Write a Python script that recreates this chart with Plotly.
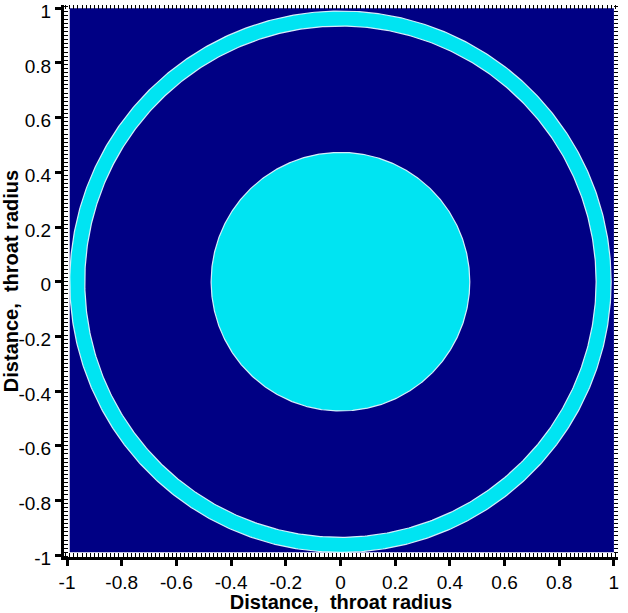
import numpy as np
import plotly.graph_objects as go

# Data
field_extent = [-0.99, 1.0]          # extent of the coloured field (both axes)
ring_outer_radius = 0.99
ring_inner_radius = 0.935
core_radius = 0.473
tick_vals = [-1, -0.8, -0.6, -0.4, -0.2, 0, 0.2, 0.4, 0.6, 0.8, 1]
tick_text = ["-1", "-0.8", "-0.6", "-0.4", "-0.2", "0", "0.2", "0.4", "0.6", "0.8", "1"]
axis_title = "Distance,  throat radius"

NAVY = "rgb(0,0,132)"
CYAN = "rgb(0,228,242)"

theta = np.linspace(0, 2 * np.pi, 721)


def circle(r, fill, name):
    return go.Scatter(
        x=r * np.cos(theta), y=r * np.sin(theta),
        mode="lines", fill="toself", fillcolor=fill,
        line=dict(color="rgba(235,250,255,0.9)", width=1.2),
        hoverinfo="skip", showlegend=False, name=name,
    )


fig = go.Figure()
# background field
fig.add_trace(go.Scatter(
    x=[field_extent[0], field_extent[1], field_extent[1], field_extent[0], field_extent[0]],
    y=[field_extent[0], field_extent[0], field_extent[1], field_extent[1], field_extent[0]],
    mode="lines", fill="toself", fillcolor=NAVY, line=dict(width=0, color=NAVY),
    hoverinfo="skip", showlegend=False))
fig.add_trace(circle(ring_outer_radius, CYAN, "ring"))
fig.add_trace(circle(ring_inner_radius, NAVY, "gap"))
fig.add_trace(circle(core_radius, CYAN, "core"))

font_ticks = dict(family="Liberation Sans, Arial, sans-serif", size=19, color="black")
font_title = dict(family="Liberation Sans, Arial, sans-serif", size=20, color="black")

fig.update_layout(
    width=628, height=613,
    margin=dict(l=64, r=10, t=5, b=56, autoexpand=False),
    paper_bgcolor="white", plot_bgcolor="white",
    showlegend=False,
    xaxis=dict(
        range=[-1.011, 1.015], tickvals=tick_vals, ticktext=tick_text,
        showgrid=False, zeroline=False, showline=True, linecolor="black", linewidth=3,
        ticks="outside", ticklen=6, tickwidth=3, tickcolor="black",
        tickfont=font_ticks, automargin=False, ticklabeloverflow="allow",
        minor=dict(ticks="inside", dtick=0.015, ticklen=4, tickwidth=1, tickcolor="black", showgrid=False),
        title=dict(text="<b>" + axis_title + "</b>", font=font_title, standoff=2),
    ),
    yaxis=dict(
        range=[-1.007, 1.012], tickvals=tick_vals, ticktext=tick_text,
        showgrid=False, zeroline=False, showline=True, linecolor="black", linewidth=3,
        ticks="outside", ticklen=6, tickwidth=3, tickcolor="black",
        tickfont=font_ticks, automargin=False, ticklabeloverflow="allow",
        ticklabelshift=3,
        minor=dict(ticks="inside", dtick=0.015, ticklen=4, tickwidth=1, tickcolor="black", showgrid=False),
        title=dict(text="<b>" + axis_title + "</b>", font=font_title, standoff=4),
    ),
    xaxis2=dict(
        overlaying="x", matches="x", side="top", showgrid=False, zeroline=False,
        showline=False, showticklabels=False, ticks="inside", dtick=0.015, tick0=0,
        ticklen=4, tickwidth=1, tickcolor="black", automargin=False,
    ),
    yaxis2=dict(
        overlaying="y", matches="y", side="right", showgrid=False, zeroline=False,
        showline=False, showticklabels=False, ticks="inside", dtick=0.015, tick0=0,
        ticklen=4, tickwidth=1, tickcolor="black", automargin=False,
    ),
)
# invisible trace to activate the mirrored tick axes
fig.add_trace(go.Scatter(x=[0], y=[0], xaxis="x2", yaxis="y2", mode="markers",
                         marker=dict(opacity=0), hoverinfo="skip", showlegend=False))

fig.write_html("out.html", config={"displayModeBar": False},
               post_script="document.body.style.margin='0';")
